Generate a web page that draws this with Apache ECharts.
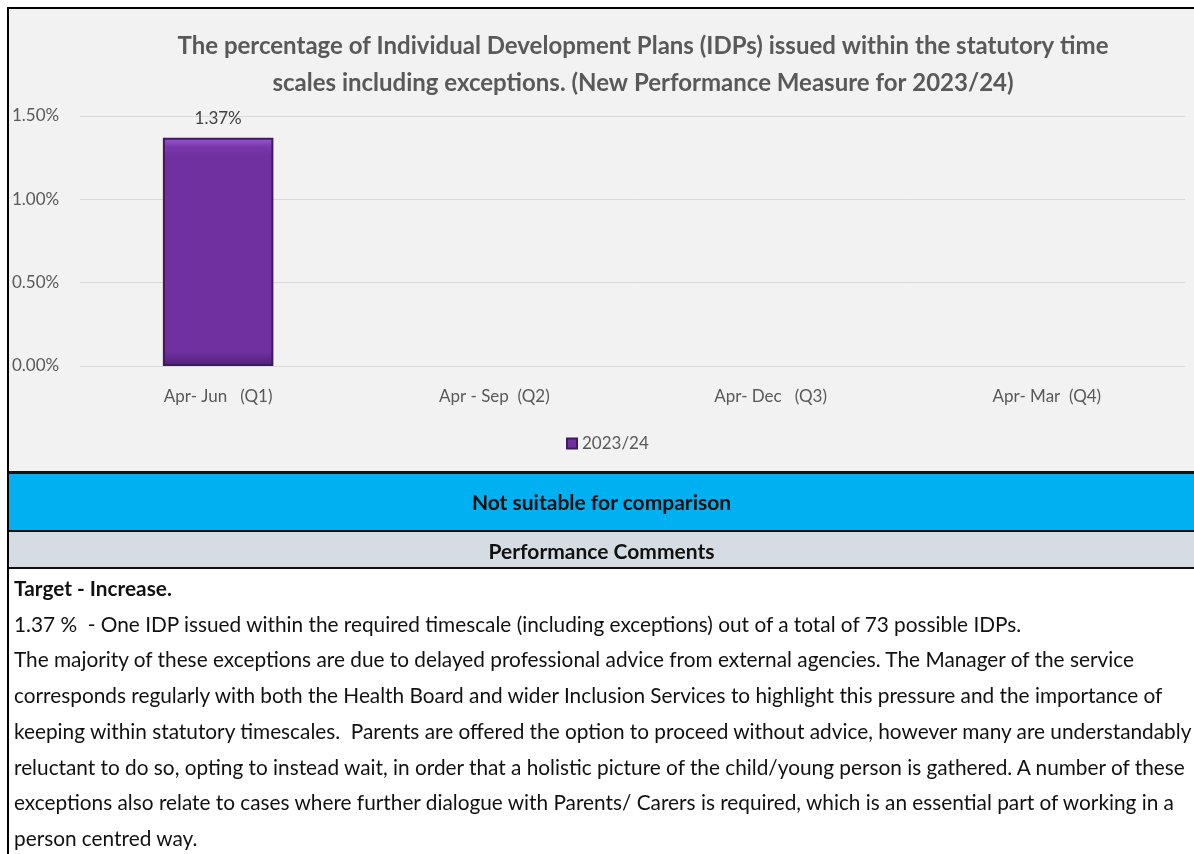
<!DOCTYPE html>
<html>
<head>
<meta charset="utf-8">
<script src="https://cdn.jsdelivr.net/npm/echarts@6/dist/echarts.min.js"></script>
<style>
  body { margin: 0; width: 1194px; height: 854px; background: #fff; position: relative; overflow: hidden; font-family: Lato, "Open Sans", sans-serif; }
  .abs { position: absolute; }
  #chart { left: 9px; top: 9px; width: 1185px; height: 463px; background: #f2f2f2; }
  .band { left: 9px; width: 1185px; text-align: center; font-weight: bold; color: #111; font-size: 21px; }
  #comments { left: 14px; top: 570px; font-size: 20.8px; line-height: 35.7px; color: #111; white-space: nowrap; }
</style>
</head>
<body>
<div class="abs" style="left:7px;top:7px;width:1187px;height:3px;background:#000"></div>
<div class="abs" style="left:7px;top:7px;width:2px;height:847px;background:#000"></div>
<div id="chart" class="abs"></div>
<div class="abs" style="left:9px;top:471px;width:1185px;height:3px;background:#111"></div>
<div class="abs band" style="top:474px;height:56px;line-height:56px;background:#00b0f0">Not suitable for comparison</div>
<div class="abs" style="left:9px;top:530px;width:1185px;height:2px;background:#111"></div>
<div class="abs band" style="top:532px;height:35px;line-height:37px;background:#d6dce4">Performance Comments</div>
<div class="abs" style="left:9px;top:567px;width:1185px;height:2px;background:#111"></div>
<div id="comments" class="abs">
  <b>Target - Increase.</b><br>
  1.37 %&nbsp; - One IDP issued within the required timescale (including exceptions) out of a total of 73 possible IDPs.<br>
  The majority of these exceptions are due to delayed professional advice from external agencies. The Manager of the service<br>
  corresponds regularly with both the Health Board and wider Inclusion Services to highlight this pressure and the importance of<br>
  keeping within statutory timescales.&nbsp; Parents are offered the option to proceed without advice, however many are understandably<br>
  reluctant to do so, opting to instead wait, in order that a holistic picture of the child/young person is gathered. A number of these<br>
  exceptions also relate to cases where further dialogue with Parents/ Carers is required, which is an essential part of working in a<br>
  person centred way.
</div>
<script>
  var quarters = ['Apr- Jun   (Q1)', 'Apr - Sep  (Q2)', 'Apr- Dec   (Q3)', 'Apr- Mar  (Q4)'];
  var values2324 = [1.37, null, null, null];
  var yTicks = [0, 0.5, 1.0, 1.5];

  var chart = echarts.init(document.getElementById('chart'));
  chart.setOption({
    backgroundColor: '#f2f2f2',
    textStyle: { fontFamily: 'Lato' },
    title: {
      text: 'The percentage of Individual Development Plans (IDPs) issued within the statutory time\nscales including exceptions. (New Performance Measure for 2023/24)',
      left: 629,
      top: 14,
      textAlign: 'center',
      textStyle: { fontSize: 24, fontWeight: 'bold', color: '#595959', lineHeight: 37 }
    },
    legend: {
      data: ['2023/24'],
      left: 552,
      top: 421,
      icon: 'rect',
      itemWidth: 10,
      itemHeight: 10,
      itemGap: 4,
      textStyle: { fontSize: 17, color: '#595959' }
    },
    grid: { left: 69, right: 9, top: 107, bottom: 106 },
    xAxis: {
      type: 'category',
      data: quarters,
      axisLine: { show: false },
      axisTick: { show: false },
      axisLabel: { fontSize: 17, color: '#595959', margin: 22 }
    },
    yAxis: {
      type: 'value',
      min: yTicks[0],
      max: yTicks[yTicks.length - 1],
      interval: 0.5,
      axisLine: { show: false },
      axisTick: { show: false },
      splitLine: { lineStyle: { color: '#d9d9d9', width: 1 } },
      axisLabel: {
        fontSize: 17, color: '#595959', align: 'left', margin: 68,
        formatter: function (v) { return v.toFixed(2) + '%'; }
      }
    },
    series: [{
      name: '2023/24',
      type: 'bar',
      data: values2324,
      barWidth: '40%',
      itemStyle: {
        color: new echarts.graphic.LinearGradient(0, 0, 0, 1, [
          { offset: 0, color: '#9a5bd0' },
          { offset: 0.04, color: '#7a38ad' },
          { offset: 0.08, color: '#7030a0' },
          { offset: 0.94, color: '#7030a0' },
          { offset: 1, color: '#4e1f74' }
        ]),
        borderColor: '#3f1a5c',
        borderWidth: 2
      },
      label: {
        show: true,
        position: 'top',
        distance: 11,
        fontSize: 17,
        color: '#404040',
        formatter: function (p) { return p.value.toFixed(2) + '%'; }
      }
    }]
  });
</script>
</body>
</html>
